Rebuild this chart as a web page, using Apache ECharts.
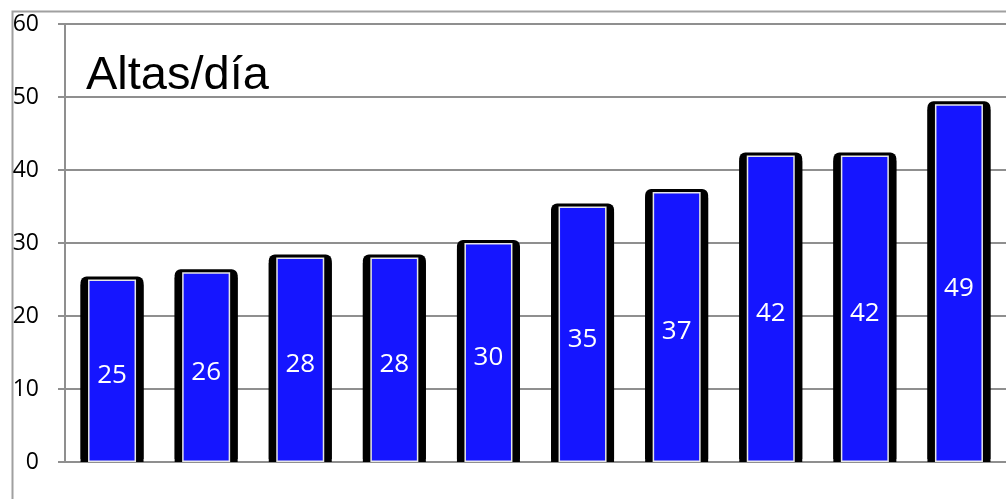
<!DOCTYPE html>
<html>
<head>
<meta charset="utf-8">
<script src="https://cdn.jsdelivr.net/npm/echarts@6/dist/echarts.min.js"></script>
<style>html,body{margin:0;padding:0;background:#fff;}#c{width:1006px;height:499px;}</style>
</head>
<body>
<div id="c"></div>
<script>
var categories = ['1','2','3','4','5','6','7','8','9','10'];
var values = [25, 26, 28, 28, 30, 35, 37, 42, 42, 49];
var yTicks = [0, 10, 20, 30, 40, 50, 60];
var titleText = 'Altas/día';

var chart = echarts.init(document.getElementById('c'), null, {renderer: 'canvas'});
var gridColor = '#8f8f8f';
chart.setOption({
  animation: false,
  backgroundColor: '#fff',
  title: {
    text: titleText, left: 81, top: 48,
    textStyle: {fontFamily: 'Liberation Sans', fontSize: 47, fontWeight: 'normal', color: '#000'}
  },
  graphic: [{
    type: 'rect', left: 10, top: 9, z: -1, silent: true,
    shape: {width: 1200, height: 700},
    style: {fill: 'none', stroke: '#a0a0a0', lineWidth: 2}
  }],
  grid: {left: 65, top: 24, width: 941, height: 438, containLabel: false},
  xAxis: [{
    type: 'category', data: categories,
    axisLine: {show: true, lineStyle: {color: gridColor, width: 2}},
    axisTick: {show: false}, axisLabel: {show: false}
  }, {
    type: 'category', data: categories, show: false
  }],
  yAxis: {
    type: 'value', min: yTicks[0], max: yTicks[yTicks.length - 1], interval: 10,
    axisLine: {show: true, lineStyle: {color: gridColor, width: 2}},
    axisTick: {show: true, length: 7, lineStyle: {color: gridColor, width: 2}},
    axisLabel: {margin: 26, fontFamily: 'Open Sans', fontSize: 23, color: '#000'},
    splitLine: {show: true, lineStyle: {color: gridColor, width: 2}}
  },
  series: [{
    type: 'bar', xAxisIndex: 0, data: values, barWidth: 63, z: 2,
    itemStyle: {color: '#000', borderRadius: [6, 6, 0, 0],
      shadowColor: '#000', shadowBlur: 0, shadowOffsetY: -3}
  }, {
    type: 'bar', xAxisIndex: 1, data: values, barWidth: 48, z: 3,
    itemStyle: {color: '#1515ff', borderColor: '#e6e6e6', borderWidth: 1.5},
    label: {show: true, position: 'inside', offset: [0, 5], color: '#fff', fontFamily: 'Open Sans', fontSize: 26}
  }]
});
</script>
</body>
</html>
